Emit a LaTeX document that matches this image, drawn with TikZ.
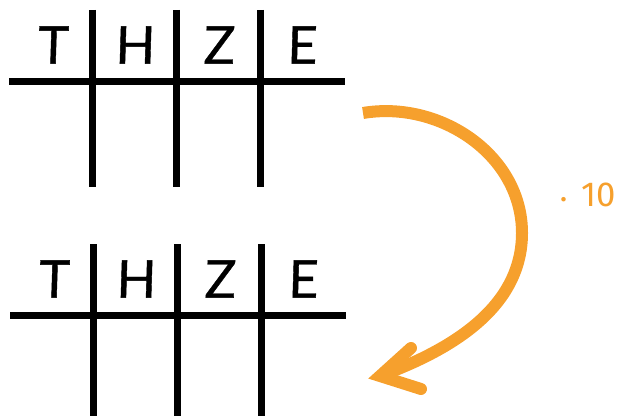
\documentclass[tikz,border=0pt]{standalone}
\usepackage{fontspec}
\setmainfont{Fira Sans}
\newfontfamily\handfont[FakeBold=0.8,FakeSlant=0.03]{Lato}
\definecolor{orangeink}{HTML}{F6A02D}
\tikzset{
 px/.style={x=0.75pt,y=-0.75pt},
 rule/.style={line width=4.9pt,black},
 letter/.style={font=\handfont\fontsize{39}{39}\selectfont,black,inner sep=0pt,anchor=center},
 sweep/.style={line width=9pt,orangeink},
 barbs/.style={line width=9pt,orangeink,line cap=round,line join=miter}
}
\begin{document}
\begin{tikzpicture}[px]
\useasboundingbox (0,0) rectangle (617,416);
\coordinate (h1a) at (9,81.7); \coordinate (h1b) at (344.5,81.7);
\coordinate (v1a) at (92.5,10); \coordinate (v1b) at (92.5,187);
\coordinate (v2a) at (176.3,10); \coordinate (v2b) at (176.3,187);
\coordinate (v3a) at (260.3,10); \coordinate (v3b) at (260.3,187);
\draw[rule] (h1a)--(h1b); \draw[rule] (v1a)--(v1b); \draw[rule] (v2a)--(v2b); \draw[rule] (v3a)--(v3b);
\node[letter] (t1) at (53,45) {T}; \node[letter] (h1) at (135,45) {H}; \node[letter] (z1) at (219,45) {Z}; \node[letter] (e1) at (302,45) {E};
\coordinate (h2a) at (10,315.7); \coordinate (h2b) at (345.5,315.7);
\coordinate (w1a) at (93.7,244.5); \coordinate (w1b) at (93.7,416);
\coordinate (w2a) at (177.7,244.5); \coordinate (w2b) at (177.7,416);
\coordinate (w3a) at (261.7,244.5); \coordinate (w3b) at (261.7,416);
\draw[rule] (h2a)--(h2b); \draw[rule] (w1a)--(w1b); \draw[rule] (w2a)--(w2b); \draw[rule] (w3a)--(w3b);
\node[letter] (t2) at (54,279) {T}; \node[letter] (h2) at (136,279) {H}; \node[letter] (z2) at (220,279) {Z}; \node[letter] (e2) at (303,279) {E};
\coordinate (s) at (363,113); \coordinate (mid) at (522,233); \coordinate (tip) at (380,376);
\draw[sweep] (s) .. controls (440,100) and (522,155) .. (mid) .. controls (522,300) and (465,345) .. (tip);
\coordinate (b1) at (411,348); \coordinate (b2) at (421,389);
\draw[barbs] (b1)--(tip)--(b2);
\node[font=\fontsize{26}{26}\selectfont,text=orangeink,inner sep=0pt] (lbl) at (588,194.5) {{\fontsize{15}{15}\selectfont •}\hspace{0.42em}10};
\end{tikzpicture}
\end{document}
